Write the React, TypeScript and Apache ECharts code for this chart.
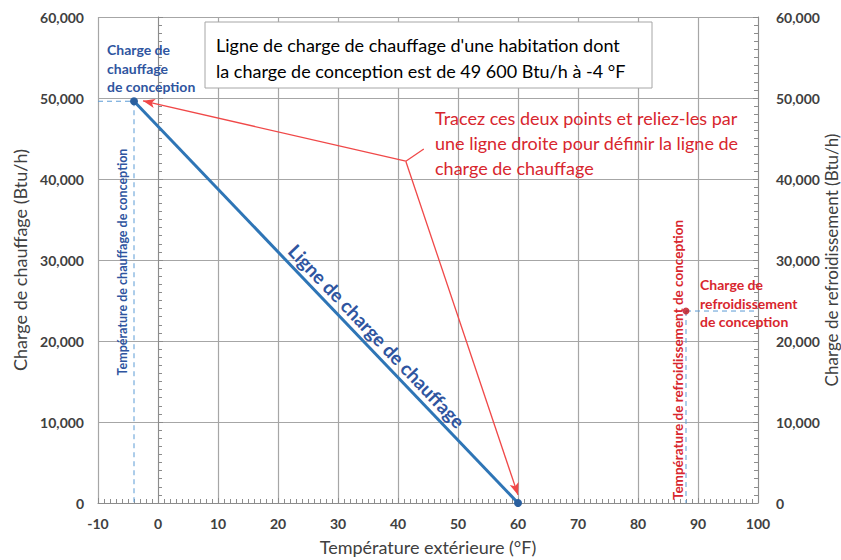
import React, { useEffect, useRef } from "react";
import * as echarts from "echarts";

// ---- Data ----
const xMin = -10;
const xMax = 100;
const yMin = 0;
const yMax = 60000;
const heatingLine: number[][] = [
  [-4, 49600],
  [60, 0],
];
const designHeatTemp = -4;
const designHeatLoad = 49600;
const coolingPoint: number[] = [88, 23700];
const arrowJunction: number[] = [41.3, 42200];
const arrowTargets: number[][] = [
  [-2.5, 49650],
  [60, 1000],
];
const calloutEnd: number[] = [44.3, 43700];

const boxLines = [
  "Ligne de charge de chauffage d'une habitation dont",
  "la charge de conception est de 49 600 Btu/h à -4 °F",
];
const redNote = [
  "Tracez ces deux points et reliez-les par",
  "une ligne droite pour définir la ligne de",
  "charge de chauffage",
];

const FONT = "Lato, 'Open Sans', sans-serif";
const BLUE_TXT = "#2f55a0";
const RED_TXT = "#d8262e";
const RED_LINE = "#f04848";
const DASH_BLUE = "#5b9bd5";

export default function App() {
  const ref = useRef<HTMLDivElement>(null);
  useEffect(() => {
    if (!ref.current) return;
    const chart = echarts.init(ref.current, undefined, { renderer: "svg" });
    const fmt = (v: number) => v.toLocaleString("en-US");
    const tickStyle = { color: "#8c8c8c", width: 1 };
    const yAxisCommon = {
      type: "value" as const,
      min: yMin,
      max: yMax,
      interval: 10000,
      axisLine: { show: true, lineStyle: { color: "#8c8c8c", width: 1 } },
      axisTick: { show: true, inside: true, length: 5, lineStyle: tickStyle },
      minorTick: { show: true, splitNumber: 10, length: 4, lineStyle: tickStyle },
      axisLabel: {
        formatter: fmt,
        fontFamily: FONT,
        fontWeight: "bold" as const,
        fontSize: 14,
        color: "#404040",
        margin: 14,
      },
      nameLocation: "middle" as const,
      nameMoveOverlap: false,
      nameTextStyle: { fontFamily: FONT, fontSize: 18, color: "#404040" },
    };
    chart.setOption({
      animation: false,
      backgroundColor: "#ffffff",
      grid: {
        left: 98,
        right: 83,
        top: 17,
        bottom: 57,
        containLabel: false,
        outerBoundsMode: "none",
      },
      xAxis: {
        type: "value",
        min: xMin,
        max: xMax,
        interval: 10,
        axisLine: { show: true, onZero: false, lineStyle: { color: "#8c8c8c", width: 1 } },
        axisTick: { show: true, inside: true, length: 5, lineStyle: tickStyle },
        minorTick: { show: true, splitNumber: 10, length: 4, lineStyle: tickStyle },
        splitLine: { show: true, lineStyle: { color: "#a6a6a6", width: 1.2 } },
        axisLabel: {
          fontFamily: FONT,
          fontWeight: "bold",
          fontSize: 14,
          color: "#404040",
          margin: 13,
        },
        name: "Température extérieure (°F)",
        nameLocation: "middle",
        nameMoveOverlap: false,
        nameGap: 35,
        nameTextStyle: { fontFamily: FONT, fontSize: 18, color: "#404040" },
      },
      yAxis: [
        {
          ...yAxisCommon,
          position: "left",
          splitLine: { show: true, lineStyle: { color: "#a6a6a6", width: 1.2 } },
          name: "Charge de chauffage (Btu/h)",
          nameGap: 69,
          nameRotate: 90,
        },
        {
          ...yAxisCommon,
          position: "right",
          splitLine: { show: false },
          axisLabel: { ...yAxisCommon.axisLabel, margin: 18 },
          name: "Charge de refroidissement (Btu/h)",
          nameGap: 65,
          nameRotate: 90,
          nameTextStyle: { fontFamily: FONT, fontSize: 17, color: "#404040" },
        },
      ],
      series: [
        {
          type: "line",
          data: [
            [xMin, designHeatLoad],
            [designHeatTemp, designHeatLoad],
          ],
          symbol: "none",
          lineStyle: { color: DASH_BLUE, width: 1, type: [5, 4] },
          z: 3,
        },
        {
          type: "line",
          data: [
            [designHeatTemp, designHeatLoad],
            [designHeatTemp, yMin],
          ],
          symbol: "none",
          lineStyle: { color: DASH_BLUE, width: 1, type: [5, 4] },
          z: 3,
        },
        {
          type: "line",
          data: [
            [coolingPoint[0], coolingPoint[1]],
            [coolingPoint[0], yMin],
          ],
          symbol: "none",
          lineStyle: { color: DASH_BLUE, width: 1, type: [5, 4] },
          z: 3,
        },
        {
          type: "line",
          data: [
            [coolingPoint[0], coolingPoint[1]],
            [xMax, coolingPoint[1]],
          ],
          symbol: "none",
          lineStyle: { color: DASH_BLUE, width: 1, type: [5, 4] },
          z: 3,
        },
        {
          type: "line",
          data: heatingLine,
          symbol: "circle",
          symbolSize: 8,
          itemStyle: { color: "#2a5f9e" },
          lineStyle: { color: "#2e75b6", width: 3 },
          z: 5,
        },
        {
          type: "scatter",
          data: [coolingPoint],
          symbol: "circle",
          symbolSize: 7,
          itemStyle: { color: "#c0101a" },
          z: 5,
        },
        {
          type: "line",
          data: [arrowJunction, calloutEnd],
          symbol: "none",
          lineStyle: { color: RED_LINE, width: 1.3 },
          z: 6,
          markLine: {
            silent: true,
            symbol: ["none", "arrow"],
            symbolSize: [7, 12],
            label: { show: false },
            lineStyle: { color: RED_LINE, width: 1.3, type: "solid" },
            data: arrowTargets.map((t) => [
              { coord: arrowJunction },
              { coord: t },
            ]),
          },
        },
      ],
      graphic: [
        {
          type: "rect",
          z: 100,
          shape: { x: 205, y: 22, width: 447, height: 66 },
          style: { fill: "#ffffff", stroke: "#a6a6a6", lineWidth: 1 },
        },
        {
          type: "text",
          z: 101,
          x: 216,
          y: 58,
          style: {
            text: boxLines.join("\n"),
            fontFamily: FONT,
            fontSize: 18,
            lineHeight: 26,
            fill: "#000000",
            verticalAlign: "middle",
          },
        },
        {
          type: "text",
          z: 101,
          x: 435,
          y: 143,
          style: {
            text: redNote.join("\n"),
            fontFamily: FONT,
            fontSize: 18,
            lineHeight: 25,
            fill: RED_TXT,
            verticalAlign: "middle",
          },
        },
        {
          type: "text",
          z: 101,
          x: 107,
          y: 68,
          style: {
            text: "Charge de\nchauffage\nde conception",
            fontFamily: FONT,
            fontSize: 14,
            fontWeight: "bold",
            lineHeight: 18.5,
            fill: BLUE_TXT,
            verticalAlign: "middle",
          },
        },
        {
          type: "text",
          z: 101,
          x: 122,
          y: 262,
          rotation: Math.PI / 2,
          style: {
            text: "Température de chauffage de conception",
            fontFamily: FONT,
            fontSize: 12.5,
            fontWeight: "bold",
            fill: BLUE_TXT,
            align: "center",
            verticalAlign: "middle",
          },
        },
        {
          type: "text",
          z: 101,
          x: 377,
          y: 336,
          rotation: -0.808,
          style: {
            text: "Ligne de charge de chauffage",
            fontFamily: FONT,
            fontSize: 19,
            fontWeight: "bold",
            fill: BLUE_TXT,
            align: "center",
            verticalAlign: "middle",
          },
        },
        {
          type: "text",
          z: 101,
          x: 678,
          y: 360,
          rotation: Math.PI / 2,
          style: {
            text: "Température de refroidissement de conception",
            fontFamily: FONT,
            fontSize: 13.5,
            fontWeight: "bold",
            fill: RED_TXT,
            align: "center",
            verticalAlign: "middle",
          },
        },
        {
          type: "text",
          z: 101,
          x: 700,
          y: 303,
          style: {
            text: "Charge de\nrefroidissement\nde conception",
            fontFamily: FONT,
            fontSize: 14,
            fontWeight: "bold",
            lineHeight: 18.5,
            fill: RED_TXT,
            verticalAlign: "middle",
          },
        },
      ],
    });
    return () => chart.dispose();
  }, []);
  return <div ref={ref} style={{ width: 841, height: 560, position: "absolute", left: 0, top: 0 }} />;
}
